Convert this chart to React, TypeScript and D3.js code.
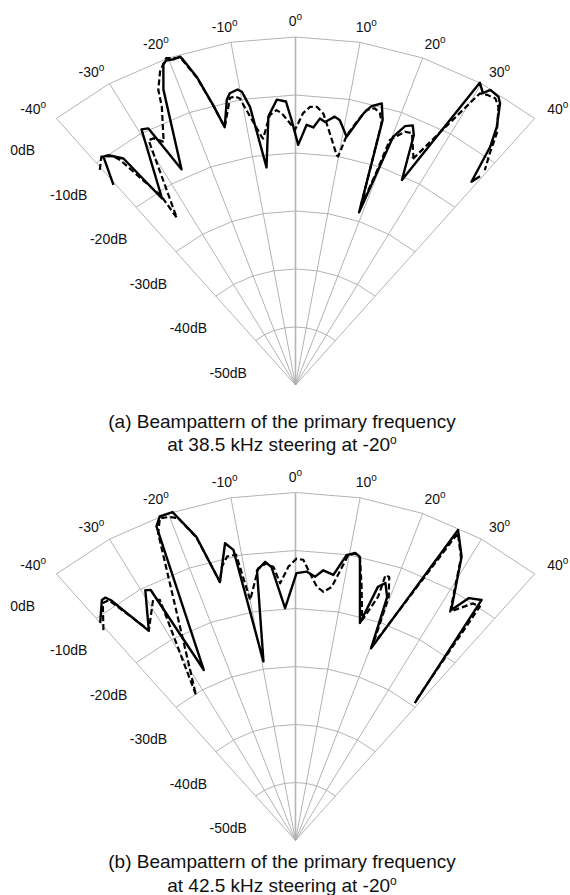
import * as d3 from "d3";

// angles (deg) of the spokes, dB of the rings, dB labels on the left
const angleTicks = [-40, -30, -20, -10, 0, 10, 20, 30, 40];
const ringDb = [-40, -30, -20, -10, 0, 10];
const dbLabels = [0, -10, -20, -30, -40, -50];

// [angle deg, level dB]
const solidA = [
  [-40.4, -4.7], [-38.2, 0.1], [-37.3, -0.2], [-35.4, -2.1], [-33.8, -11.3], [-29.4, 0.6], [-28.2, 0.2],
  [-26.3, -8.5], [-22.7, 5.2], [-21.1, 9.2], [-20.5, 9.7], [-19.3, 9.5], [-18.2, 9.6], [-17.9, 8.9],
  [-16.7, 5.5], [-15.4, 0.1], [-14.4, -4.1], [-12.7, 0.4], [-11.9, 1.4], [-10.4, 1.8], [-9.7, 1.3],
  [-8.7, -1.5], [-7.1, -12.2], [-5.4, -3.5], [-3.5, -0.7], [-1.8, -1.1], [-0.8, -4.3], [0.6, -8.6],
  [2.3, -5.1], [3.7, -5.5], [4.9, -3.9], [6.0, -4.4], [7.8, -3.3], [8.9, -3.8], [10.9, -6.4],
  [13.2, -1.9], [14.3, -0.4], [16.0, 0.5], [17.1, -2.2], [19.0, -18.5], [20.2, -4.4], [21.6, -2.0],
  [22.9, -1.4], [23.9, -2.9], [25.9, -10.7], [29.7, 10.0], [31.0, 8.7], [31.7, 9.8], [33.4, 9.5],
  [34.2, 8.7], [36.1, 5.1], [37.4, 1.7], [39.0, -4.9], [39.6, -3.3],
];
const dashedA = [
  [-40.4, -1.3], [-38.5, 0.3], [-36.7, -0.8], [-36.1, -2.0], [-33.6, -11.0], [-33.6, -15.4], [-29.3, -1.6],
  [-28.3, -1.7], [-26.9, -3.0], [-24.2, 2.6], [-23.5, 5.5], [-22.0, 8.3], [-21.0, 9.4], [-20.3, 10.1],
  [-19.5, 9.8], [-18.2, 9.4], [-16.7, 5.3], [-15.4, 0.0], [-14.4, -4.1], [-12.7, -0.8], [-12.1, 0.6],
  [-11.1, 0.7], [-10.3, 0.2], [-7.3, -6.8], [-7.0, -7.2], [-5.1, -3.3], [-3.7, -2.5], [-2.7, -3.1],
  [-1.1, -4.9], [-0.1, -6.0], [1.5, -3.1], [2.8, -2.0], [4.1, -1.9], [5.5, -3.0], [7.3, -6.3],
  [9.5, -9.8], [9.9, -10.0], [10.9, -6.1], [12.3, -3.5], [13.6, -1.2], [15.0, -0.6], [16.2, -1.2],
  [17.1, -2.8], [18.9, -17.7], [19.6, -10.8], [19.8, -5.1], [22.0, -2.9], [23.4, -2.7], [25.8, -6.3],
  [25.8, -6.9], [30.6, 8.4], [31.7, 8.8], [33.1, 9.0], [34.3, 8.1], [36.8, 4.2], [38.1, 0.8], [39.5, -2.0],
];
const solidB = [
  [-40.0, -1.0], [-37.0, 1.9], [-36.2, 1.9], [-35.7, 1.0], [-33.2, -6.8], [-29.3, -0.5], [-28.4, -0.9],
  [-26.7, -17.1], [-22.5, 8.6], [-21.4, 10.0], [-19.3, 10.0], [-17.0, 4.8], [-15.3, -3.8], [-12.5, 2.5],
  [-11.3, 1.1], [-9.5, -18.7], [-7.6, -3.0], [-5.8, -1.7], [-4.7, -2.7], [-2.4, -9.9], [0.2, -3.9],
  [2.2, -3.6], [4.0, -4.4], [5.5, -3.2], [7.6, -3.8], [9.5, -0.1], [11.0, 0.5], [12.0, 0.0],
  [15.5, -11.1], [16.9, -4.3], [18.1, -3.3], [19.4, -5.5], [20.2, -14.7], [26.1, 9.6], [28.7, 5.8],
  [32.3, -3.0], [33.8, 0.3], [35.9, 1.2], [39.1, -19.5],
];
const dashedB = [
  [-40.5, -2.3], [-37.2, 1.4], [-36.0, 1.2], [-33.1, -6.7], [-29.0, -2.6], [-27.8, -3.1], [-32.6, -20.2],
  [-22.7, 7.4], [-21.5, 9.7], [-20.1, 9.4], [-18.8, 8.7], [-17.0, 4.6], [-15.3, -3.8], [-14.1, -1.3],
  [-12.7, 0.2], [-11.0, 0.2], [-10.0, -7.9], [-7.3, -2.7], [-5.6, -2.0], [-4.3, -2.7], [-3.2, -5.6],
  [-1.4, -2.8], [0.2, -1.4], [1.5, -1.6], [2.9, -3.9], [4.5, -6.1], [6.0, -6.9], [7.6, -5.9],
  [9.8, -0.1], [11.0, 0.4], [12.0, -0.1], [13.5, -4.4], [15.8, -10.5], [17.6, -5.9], [17.6, -2.0],
  [18.4, -2.1], [19.7, -5.4], [20.3, -14.1], [26.3, 9.1], [28.7, 5.6], [32.3, -3.3], [35.0, -0.1],
  [36.4, 0.1], [38.8, -18.9],
];

const W = 570, H = 895;
const cx = 295.5, rx = 372, ry = 348;
const font = "'Liberation Sans', Arial, Helvetica, sans-serif";

const panels = [
  { cy: 385, solid: solidA, dashed: dashedA, t1: "(a) Beampattern of the primary frequency", t2: "at 38.5 kHz steering at -20", ty: 427.5 },
  { cy: 840.5, solid: solidB, dashed: dashedB, t1: "(b) Beampattern of the primary frequency", t2: "at 42.5 kHz steering at -20", ty: 868 },
];

const rad = d3.scaleLinear().domain([-50, 10]).range([0, 1]);
const xs = d3.scaleLinear().domain([-1, 1]).range([cx - rx, cx + rx]);

function Panel({ p }) {
  const ys = d3.scaleLinear().domain([0, 1]).range([p.cy, p.cy - ry]);
  const proj = (a, db) => {
    const t = (a * Math.PI) / 180;
    const k = rad(db);
    return [xs(k * Math.sin(t)), ys(k * Math.cos(t))];
  };
  const line = d3.line().x((d) => proj(d[0], d[1])[0]).y((d) => proj(d[0], d[1])[1]);
  const ring = (db) => d3.line()(angleTicks.map((a) => proj(a, db)));
  const gridColor = "#aaaaaa";

  return (
    <g>
      {ringDb.map((db) => (
        <path key={"r" + db} d={ring(db)} fill="none" stroke={gridColor} strokeWidth={0.9} />
      ))}
      {angleTicks.map((a) => {
        const [x0, y0] = proj(a, -50);
        const [x1, y1] = proj(a, 10);
        return (
          <line key={"s" + a} x1={x0} y1={y0} x2={x1} y2={y1}
            stroke={a === 0 ? "#b4b4b4" : gridColor} strokeWidth={a === 0 ? 1.6 : 0.9} />
        );
      })}
      {angleTicks.map((a) => {
        const t = (a * Math.PI) / 180;
        const [, yo] = proj(a, 10);
        const lx = cx + (rx + 36) * Math.sin(t);
        const ly = yo - 16 * Math.cos(t) * Math.cos(t) + 5;
        return (
          <text key={"al" + a} x={lx} y={ly} textAnchor="middle" fontSize={14} fontFamily={font} fill="#111">
            {a}
            <tspan fontSize={10} dy={-6}>o</tspan>
          </text>
        );
      })}
      {dbLabels.map((db) => {
        const [x0, y0] = proj(-40, db);
        return (
          <text key={"dl" + db} x={x0 - 86} y={y0 - 7.5} fontSize={14} fontFamily={font} fill="#111">
            {db + "dB"}
          </text>
        );
      })}
      <path d={line(p.solid)} fill="none" stroke="#000" strokeWidth={2.4} strokeLinejoin="round" />
      <path d={line(p.dashed)} fill="none" stroke="#000" strokeWidth={2.2} strokeDasharray="6,3" strokeLinejoin="round" />
      <text x={282} y={p.ty} textAnchor="middle" fontSize={19} fontFamily={font} fill="#111">{p.t1}</text>
      <text x={282} y={p.ty + 23.5} textAnchor="middle" fontSize={19} fontFamily={font} fill="#111">
        {p.t2}
        <tspan fontSize={12} dy={-7}>o</tspan>
      </text>
    </g>
  );
}

export default function App() {
  return (
    <svg width={W} height={H} style={{ position: "absolute", left: 0, top: 0, background: "#fff" }}>
      <rect width={W} height={H} fill="#fff" />
      {panels.map((p, i) => (
        <Panel key={i} p={p} />
      ))}
    </svg>
  );
}
